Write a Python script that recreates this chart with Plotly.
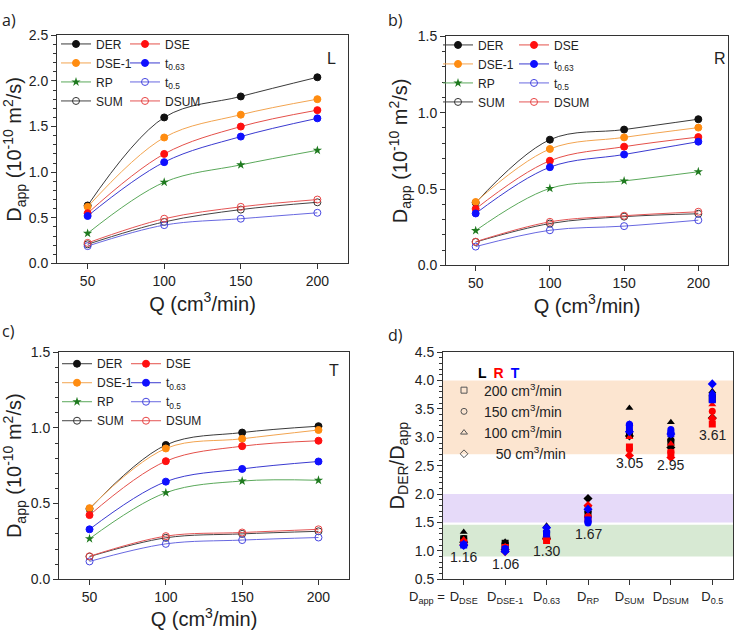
import plotly.graph_objects as go

W, H = 739, 638
FONT = "Liberation Sans, Arial, sans-serif"

Q = [50, 100, 150, 200]

# ---- panel a) L ----
L_DER  = [0.635, 1.60, 1.83, 2.04]
L_DSE  = [0.55, 1.20, 1.50, 1.68]
L_DSE1 = [0.62, 1.38, 1.63, 1.80]
L_T063 = [0.52, 1.11, 1.39, 1.59]
L_RP   = [0.33, 0.89, 1.08, 1.24]
L_T05  = [0.19, 0.42, 0.49, 0.555]
L_SUM  = [0.21, 0.455, 0.59, 0.67]
L_DSUM = [0.225, 0.49, 0.62, 0.70]

# ---- panel b) R ----
R_DER  = [0.41, 0.823, 0.889, 0.957]
R_DSE  = [0.37, 0.685, 0.777, 0.84]
R_DSE1 = [0.415, 0.762, 0.838, 0.902]
R_T063 = [0.34, 0.643, 0.726, 0.81]
R_RP   = [0.228, 0.504, 0.553, 0.613]
R_T05  = [0.123, 0.23, 0.257, 0.296]
R_SUM  = [0.153, 0.274, 0.319, 0.338]
R_DSUM = [0.155, 0.285, 0.325, 0.351]

# ---- panel c) T ----
T_DER  = [0.465, 0.887, 0.969, 1.011]
T_DSE  = [0.424, 0.78, 0.879, 0.915]
T_DSE1 = [0.47, 0.864, 0.928, 0.986]
T_T063 = [0.33, 0.645, 0.729, 0.778]
T_RP   = [0.268, 0.572, 0.649, 0.654]
T_T05  = [0.118, 0.234, 0.259, 0.276]
T_SUM  = [0.15, 0.274, 0.30, 0.317]
T_DSUM = [0.152, 0.285, 0.309, 0.33]

SERIES_KEYS = ["DER", "DSE", "DSE1", "T063", "RP", "T05", "SUM", "DSUM"]
SERIES_LABELS = ["DER", "DSE", "DSE-1", "t<sub>0.63</sub>", "RP", "t<sub>0.5</sub>", "SUM", "DSUM"]

PANELS = {
    "L": dict(DER=L_DER, DSE=L_DSE, DSE1=L_DSE1, T063=L_T063, RP=L_RP, T05=L_T05, SUM=L_SUM, DSUM=L_DSUM),
    "R": dict(DER=R_DER, DSE=R_DSE, DSE1=R_DSE1, T063=R_T063, RP=R_RP, T05=R_T05, SUM=R_SUM, DSUM=R_DSUM),
    "T": dict(DER=T_DER, DSE=T_DSE, DSE1=T_DSE1, T063=T_T063, RP=T_RP, T05=T_T05, SUM=T_SUM, DSUM=T_DSUM),
}

# ---- panel d) ----
D_CATS = ["DSE", "DSE1", "T063", "RP", "SUM", "DSUM", "T05"]
D_TICKS = ["D<sub>DSE</sub>", "D<sub>DSE-1</sub>", "D<sub>0.63</sub>", "D<sub>RP</sub>",
           "D<sub>SUM</sub>", "D<sub>DSUM</sub>", "D<sub>0.5</sub>"]
D_MEANS = ["1.16", "1.06", "1.30", "1.67", "3.05", "2.95", "3.61"]
D_MEAN_Y = [0.895, 0.775, 1.0, 1.305, 2.54, 2.52, 3.04]
FLOW_LABELS = ["200 cm<sup>3</sup>/min", "150 cm<sup>3</sup>/min", "100 cm<sup>3</sup>/min", "\u2007 50 cm<sup>3</sup>/min"]
BANDS = [(0.9, 1.46, "rgba(205,228,200,0.8)"), (1.5, 2.0, "rgba(226,212,248,0.85)"), (2.7, 4.0, "rgba(251,222,196,0.8)")]

STYLE = {
    "DER":  dict(line="#3a3a3a", mcolor="#111111", symbol="circle"),
    "DSE":  dict(line="#e4504a", mcolor="#ff1010", symbol="circle"),
    "DSE1": dict(line="#f2a450", mcolor="#ff8c10", symbol="circle"),
    "T063": dict(line="#3a3ad0", mcolor="#1010ff", symbol="circle"),
    "RP":   dict(line="#5aa85a", mcolor="#1f7a1f", symbol="star"),
    "T05":  dict(line="#6868e0", mcolor="#4646e0", symbol="circle-open"),
    "SUM":  dict(line="#444444", mcolor="#333333", symbol="circle-open"),
    "DSUM": dict(line="#e45555", mcolor="#e84444", symbol="circle-open"),
}
COL1 = ["DER", "DSE1", "RP", "SUM"]

fig = go.Figure()

panel_axes = [("L", "x", "y", "legend", "legend2"),
              ("R", "x2", "y2", "legend3", "legend4"),
              ("T", "x3", "y3", "legend5", "legend6")]

for pname, xa, ya, lg1, lg2 in panel_axes:
    data = PANELS[pname]
    order = ["DER", "DSE1", "RP", "SUM", "DSE", "T063", "T05", "DSUM"]
    for key in order:
        st = STYLE[key]
        lab = SERIES_LABELS[SERIES_KEYS.index(key)]
        fig.add_trace(go.Scatter(
            x=Q, y=data[key], mode="lines+markers", name=lab,
            xaxis=xa, yaxis=ya,
            legend=lg1 if key in COL1 else lg2,
            line=dict(color=st["line"], width=1, shape="spline", smoothing=1.0),
            marker=dict(symbol=st["symbol"], size=7,
                        color=st["mcolor"], line=dict(color=st["mcolor"], width=1 if key != "RP" else 0)),
        ))

# panel d scatter: ratio D_DER / D_app
FLOW_SYMBOLS = {200: "square", 150: "circle", 100: "triangle-up", 50: "diamond"}
PCOLOR = {"L": "#000000", "R": "#ff0000", "T": "#0000ff"}
for pname in ["L", "R", "T"]:
    data = PANELS[pname]
    for q in [200, 150, 100, 50]:
        qi = Q.index(q)
        ys = [data["DER"][qi] / data[c][qi] for c in D_CATS]
        fig.add_trace(go.Scatter(
            x=list(range(1, 8)), y=ys, mode="markers", showlegend=False,
            xaxis="x4", yaxis="y4",
            marker=dict(symbol=FLOW_SYMBOLS[q], size=7, color=PCOLOR[pname],
                        line=dict(width=0)),
        ))
for q, lab in zip([200, 150, 100, 50], FLOW_LABELS):
    fig.add_trace(go.Scatter(
        x=[None], y=[None], mode="markers", name=lab, legend="legend7",
        xaxis="x4", yaxis="y4",
        marker=dict(symbol=FLOW_SYMBOLS[q] + "-open", size=6, color="#555555",
                    line=dict(width=1, color="#555555")),
    ))

for y0, y1, col in BANDS:
    fig.add_shape(type="rect", xref="x4 domain", yref="y4", x0=0, x1=1, y0=y0, y1=y1,
                  fillcolor=col, line=dict(width=0), layer="below")

def px_dom_x(a, b):
    return [a / W, b / W]

def px_dom_y(top, bottom):
    return [1 - bottom / H, 1 - top / H]

AX_COMMON = dict(showline=True, linecolor="#333333", linewidth=1, mirror=True,
                 ticks="outside", ticklen=5, tickcolor="#333333", showgrid=False,
                 zeroline=False, tickfont=dict(family=FONT, size=14, color="#222222"))

ytitle = "D<sub>app</sub> (10<sup>-10</sup> m<sup>2</sup>/s)"
xtitle = "Q (cm<sup>3</sup>/min)"
TFONT = dict(family=FONT, size=20, color="#222222")

def xq(dom, anchor):
    return dict(AX_COMMON, domain=dom, anchor=anchor, range=[30, 220],
                tickvals=Q, title=dict(text=xtitle, font=TFONT, standoff=6))

def yq(dom, anchor, top):
    return dict(AX_COMMON, domain=dom, anchor=anchor, range=[0, top], dtick=0.5,
                tickformat=".1f",
                minor=dict(dtick=0.1, ticks="outside", ticklen=3, tickcolor="#333333"),
                title=dict(text=ytitle, font=TFONT, standoff=4))

def leg(xpx, ypx, size=12):
    return dict(x=xpx / W, y=1 - ypx / H, xanchor="left", yanchor="top",
                bgcolor="rgba(0,0,0,0)", borderwidth=0, tracegroupgap=0,
                font=dict(family=FONT, size=size, color="#222222"))

fig.update_layout(
    width=W, height=H, margin=dict(l=0, r=0, t=0, b=0),
    paper_bgcolor="white", plot_bgcolor="white",
    xaxis=xq(px_dom_x(57, 348), "y"),
    yaxis=yq(px_dom_y(28, 262), "x", 2.5),
    xaxis2=xq(px_dom_x(446, 728), "y2"),
    yaxis2=yq(px_dom_y(29, 264), "x2", 1.5),
    xaxis3=xq(px_dom_x(59, 349), "y3"),
    yaxis3=yq(px_dom_y(353, 586), "x3", 1.5),
    xaxis4=dict(AX_COMMON, domain=px_dom_x(443, 733), anchor="y4", range=[0.5, 7.5],
                tickvals=list(range(1, 8)), ticktext=D_TICKS,
                tickfont=dict(family=FONT, size=13, color="#222222")),
    yaxis4=dict(AX_COMMON, domain=px_dom_y(353, 586), anchor="x4", range=[0.5, 4.5],
                dtick=0.5, tickformat=".1f",
                minor=dict(dtick=0.1, ticks="outside", ticklen=3, tickcolor="#333333"),
                title=dict(text="D<sub>DER</sub>/D<sub>app</sub>", font=TFONT, standoff=4)),
    legend=leg(56, 22), legend2=leg(125, 22),
    legend3=leg(438, 23), legend4=leg(514, 23),
    legend5=leg(57, 350), legend6=leg(126, 350),
    legend7=leg(444, 376, 14),
    showlegend=True,
)

ann = []
PL_FONT = dict(family="Open Sans, sans-serif", size=16, color="#222222")
for txt, xpx, ypx in [("a)", 0, 12), ("b)", 386, 12), ("c)", 0, 331), ("d)", 386, 335)]:
    ann.append(dict(text=txt, x=xpx / W, y=1 - ypx / H, xref="paper", yref="paper",
                    xanchor="left", yanchor="middle", showarrow=False, font=PL_FONT))
for txt, xpx, ypx in [("L", 331, 52), ("R", 720, 52), ("T", 334, 372)]:
    ann.append(dict(text=txt, x=xpx / W, y=1 - ypx / H, xref="paper", yref="paper",
                    xanchor="center", yanchor="middle", showarrow=False,
                    font=dict(family=FONT, size=16, color="#222222")))
for i, (m, yv) in enumerate(zip(D_MEANS, D_MEAN_Y)):
    ann.append(dict(text=m, x=i + 1, y=yv, xref="x4", yref="y4", showarrow=False,
                    xanchor="center", yanchor="middle",
                    font=dict(family=FONT, size=14, color="#222222")))
ann.append(dict(text="<b><span style='color:#000000'>L</span>\u2002<span style='color:#ff0000'>R</span>\u2002<span style='color:#0000ff'>T</span></b>",
                x=476 / W, y=1 - 374 / H, xref="paper", yref="paper", xanchor="left",
                yanchor="middle", showarrow=False, font=dict(family=FONT, size=14)))
ann.append(dict(text="D<sub>app</sub> =", x=427 / W, y=1 - 605 / H, xref="paper", yref="paper",
                xanchor="center", yanchor="middle", showarrow=False,
                font=dict(family=FONT, size=13, color="#222222")))
fig.update_layout(annotations=ann)

fig.write_html("out.html")
